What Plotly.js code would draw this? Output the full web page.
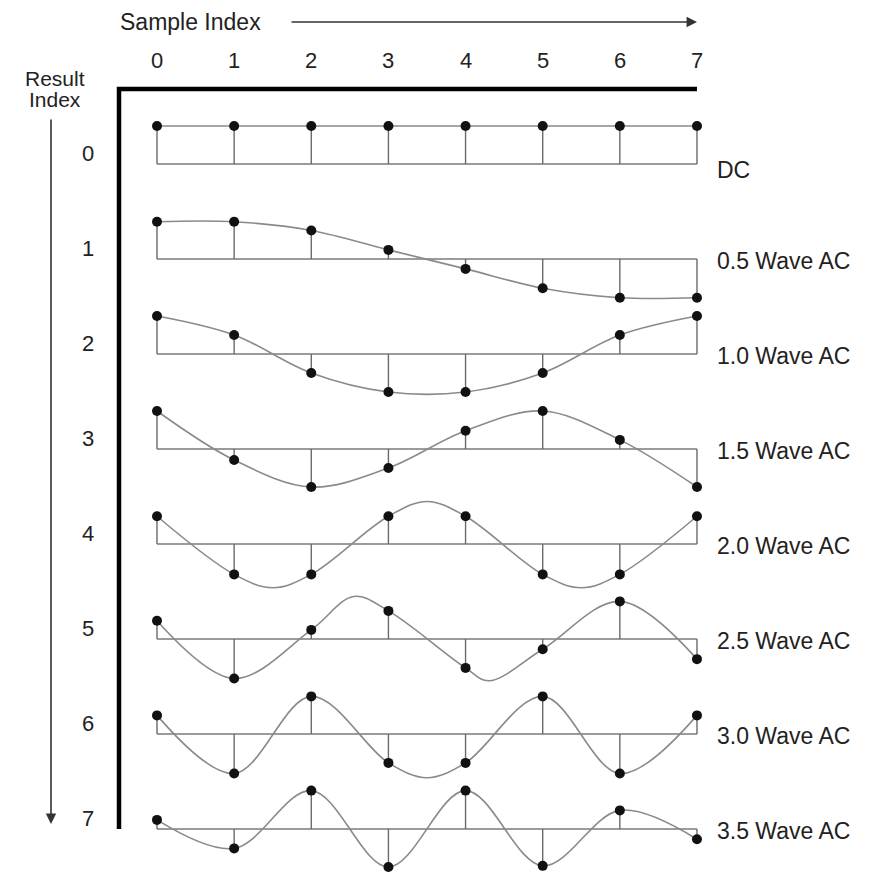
<!DOCTYPE html>
<html>
<head>
<meta charset="utf-8">
<script src="https://cdn.plot.ly/plotly-3.0.1.min.js"></script>
<style>html,body{margin:0;padding:0;background:#fff;}#chart{width:877px;height:872px;}</style>
</head>
<body>
<div id="chart"></div>
<script>
// ---- data ----
const sampleIndex = [0, 1, 2, 3, 4, 5, 6, 7];
const sampleTickLabels = ['0', '1', '2', '3', '4', '5', '6', '7'];
const resultTickLabels = ['0', '1', '2', '3', '4', '5', '6', '7'];
const rowNames = ['DC', '0.5 Wave AC', '1.0 Wave AC', '1.5 Wave AC', '2.0 Wave AC', '2.5 Wave AC', '3.0 Wave AC', '3.5 Wave AC'];

// sample values (amplitude units) for each result index
const row0 = [1.0, 1.0, 1.0, 1.0, 1.0, 1.0, 1.0, 1.0];
const row1 = [0.98, 0.98, 0.75, 0.24, -0.26, -0.77, -1.02, -1.02];
const row2 = [1.0, 0.5, -0.5, -1.0, -1.0, -0.5, 0.5, 1.0];
const row3 = [1.0, -0.29, -1.0, -0.5, 0.48, 1.0, 0.24, -1.0];
const row4 = [0.73, -0.8, -0.8, 0.73, 0.73, -0.8, -0.8, 0.73];
const row5 = [0.48, -1.04, 0.24, 0.74, -0.76, -0.27, 0.99, -0.53];
const row6 = [0.49, -1.04, 0.99, -0.76, -0.76, 0.99, -1.04, 0.49];
const row7 = [0.24, -0.51, 1.01, -1.0, 1.01, -0.97, 0.49, -0.27];
const rows = [row0, row1, row2, row3, row4, row5, row6, row7];

// continuous curve extrema (where they fall between samples)
const extraX4 = [1.5, 3.5, 5.5];
const extraY4 = [-1.15, 1.12, -1.15];
const extraX5 = [2.55, 4.3];
const extraY5 = [1.12, -1.1];
const extraX6 = [3.5];
const extraY6 = [-1.15];
const extrasX = [[], [], [], [], extraX4, extraX5, extraX6, []];
const extrasY = [[], [], [], [], extraY4, extraY5, extraY6, []];

// ---- layout constants ----
const GAP = 2.5;            // vertical spacing between rows (amplitude units)
const PXX = 77.14;          // px per sample
const PXY = 38;             // px per amplitude unit
const X0PX = 157, Y0PX = 164;
const W = 877, H = 872;
const xr = [-X0PX / PXX, (W - X0PX) / PXX];
const yr = [-(H - Y0PX) / PXY, Y0PX / PXY];
const px2x = p => (p - X0PX) / PXX;
const py2y = p => (Y0PX - p) / PXY;

const grey = '#7a7a7a';
const textCol = '#222';
const FONT = '"Liberation Sans", Arial, Helvetica, sans-serif';

const traces = [];
rows.forEach((vals, k) => {
  const base = -k * GAP;
  // baseline
  traces.push({x: [sampleIndex[0], sampleIndex[7]], y: [base, base], mode: 'lines',
    line: {color: grey, width: 1.6}, hoverinfo: 'skip', showlegend: false});
  // stems
  const sx = [], sy = [];
  sampleIndex.forEach((n, i) => { sx.push(n, n, null); sy.push(base, base + vals[i], null); });
  traces.push({x: sx, y: sy, mode: 'lines', line: {color: '#6a6a6a', width: 1.4},
    hoverinfo: 'skip', showlegend: false});
  // curve through samples and visible extrema
  const pts = sampleIndex.map((n, i) => [n, vals[i]]);
  extrasX[k].forEach((x, j) => pts.push([x, extrasY[k][j]]));
  pts.sort((a, b) => a[0] - b[0]);
  traces.push({x: pts.map(p => p[0]), y: pts.map(p => base + p[1]), mode: 'lines',
    line: {color: '#8a8a8a', width: 1.6, shape: 'spline', smoothing: 1.0},
    hoverinfo: 'skip', showlegend: false});
  // sample dots
  traces.push({x: sampleIndex, y: vals.map(v => base + v), mode: 'markers',
    marker: {color: '#111', size: 10}, cliponaxis: false, hoverinfo: 'skip', showlegend: false});
});

const annotations = [];
// top tick labels
sampleIndex.forEach((n, i) => annotations.push({x: n, y: py2y(60), text: sampleTickLabels[i],
  showarrow: false, xanchor: 'center', yanchor: 'middle', font: {size: 22, color: textCol, family: FONT}}));
// left tick labels
resultTickLabels.forEach((t, k) => annotations.push({x: px2x(88), y: -k * GAP + 0.27, text: t,
  showarrow: false, xanchor: 'center', yanchor: 'middle', font: {size: 22, color: textCol, family: FONT}}));
// row names
rowNames.forEach((t, k) => annotations.push({x: px2x(715), y: -k * GAP - (k === 0 ? 0.16 : 0.05), text: t,
  showarrow: false, xanchor: 'left', yanchor: 'middle', font: {size: 23, color: textCol, family: FONT}}));
// axis titles
annotations.push({x: px2x(118), y: py2y(22), text: 'Sample Index', showarrow: false, xanchor: 'left',
  yanchor: 'middle', font: {size: 23, color: textCol, family: FONT}});
annotations.push({x: px2x(55), y: py2y(78), text: 'Result', showarrow: false, xanchor: 'center',
  yanchor: 'middle', font: {size: 21, color: textCol, family: FONT}});
annotations.push({x: px2x(55), y: py2y(99), text: 'Index', showarrow: false, xanchor: 'center',
  yanchor: 'middle', font: {size: 21, color: textCol, family: FONT}});
// arrows
annotations.push({x: sampleIndex[7], y: py2y(22), ax: px2x(290), ay: py2y(22), axref: 'x', ayref: 'y',
  text: '', showarrow: true, arrowhead: 2, arrowsize: 1.3, arrowwidth: 1.6, arrowcolor: '#333', standoff: 0});
annotations.push({x: px2x(51), y: py2y(824), ax: px2x(51), ay: py2y(118), axref: 'x', ayref: 'y',
  text: '', showarrow: true, arrowhead: 2, arrowsize: 1.3, arrowwidth: 1.6, arrowcolor: '#333', standoff: 0});

const fx = px2x(119), fyTop = py2y(89), fyBot = py2y(829);
const shapes = [{type: 'path', xref: 'x', yref: 'y',
  path: `M ${fx},${fyBot} L ${fx},${fyTop} L ${sampleIndex[7]},${fyTop}`,
  line: {color: '#000', width: 4.5}}];

const layout = {
  width: W, height: H, margin: {l: 0, r: 0, t: 0, b: 0},
  paper_bgcolor: '#fff', plot_bgcolor: '#fff',
  xaxis: {range: xr, visible: false, fixedrange: true},
  yaxis: {range: yr, visible: false, fixedrange: true},
  showlegend: false, annotations: annotations, shapes: shapes,
  font: {family: FONT}
};
Plotly.newPlot('chart', traces, layout, {staticPlot: true});
</script>
</body>
</html>
